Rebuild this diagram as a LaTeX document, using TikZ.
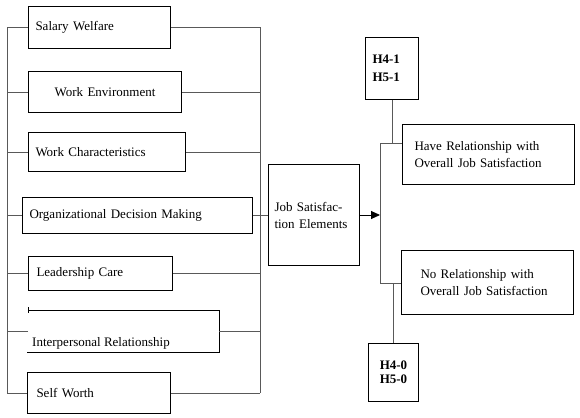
\documentclass[tikz,border=0pt]{standalone}
\usepackage{fontspec}
\setmainfont{Liberation Serif}
\usetikzlibrary{arrows.meta}
\tikzstyle{factor} = [rectangle, draw=black, line width=1pt, anchor=north west, align=left, inner xsep=7pt, inner ysep=0pt]
\tikzstyle{hyp} = [factor, font=\fontsize{13}{18}\selectfont\bfseries]
\tikzstyle{link} = [draw=black!65, line width=0.9pt]
\tikzstyle{arrow} = [link, draw=black, -{Triangle[length=9pt,width=8pt]}]

\begin{document}
\begin{tikzpicture}[x=1pt, y=-1pt, font=\fontsize{13}{17}\selectfont]
    \useasboundingbox (0,0) rectangle (580,417);
    % job satisfaction elements
    \node (sal) [factor, text width=128pt, minimum height=42pt] at (28,6) {Salary Welfare};
    \node (env) [factor, align=center, text width=139pt, minimum height=41pt] at (28,71) {Work Environment};
    \node (cha) [factor, text width=143pt, minimum height=39pt] at (28,132) {Work Characteristics};
    \node (org) [factor, text width=216pt, minimum height=36pt] at (22,197) {Organizational Decision Making};
    \node (lead) [factor, inner xsep=8pt, text width=128pt, minimum height=34pt] at (28,256) {Leadership Care};
    \node (inter) [factor, draw=none, text width=176pt, minimum height=41pt] at (28,310) {};
    \node (intertxt) [anchor=west, inner sep=0pt] at (32,343) {Interpersonal Relationship};
    \node (self) [factor, inner xsep=9pt, text width=125pt, minimum height=41pt] at (27,372) {Self Worth};
    \draw [line width=1pt] (inter.north west) -- (inter.north east) -- (inter.south east) -- ([xshift=-1pt]inter.south west);
    \draw [line width=1pt] ([yshift=3pt]inter.north west) -- ([yshift=-3pt]inter.north west);

    \node (jse) [factor, inner xsep=6pt, text width=79pt, minimum height=101pt] at (268,164) {Job Satisfac-\\tion Elements};

    % hypotheses and results
    \node (h41) [hyp, text width=39pt, minimum height=62pt] at (365,37) {H4-1\\H5-1};
    \node (have) [factor, inner xsep=12pt, text width=148pt, minimum height=60pt] at (402,124) {Have Relationship with\\Overall Job Satisfaction};
    \node (norel) [factor, inner xsep=19pt, text width=134pt, minimum height=64pt] at (401,250) {No Relationship with\\Overall Job Satisfaction};
    \node (h40) [hyp, align=center, font=\fontsize{13}{14}\selectfont\bfseries, text width=36pt, minimum height=58pt] at (368,343) {H4-0\\H5-0};

    % buses
    \coordinate (lbus) at (7,0);
    \coordinate (rbus) at (260,0);
    \coordinate (up) at (380,143);
    \coordinate (dn) at (380,283);

    \foreach \n in {sal,env,cha,org,lead,inter,self}
        \draw [link] (\n.west) -- (\n.west -| lbus);
    \draw [link] (sal.west -| lbus) -- (self.west -| lbus);
    \foreach \n in {sal,env,cha,lead,inter,self}
        \draw [link] (\n.east) -- (\n.east -| rbus);
    \draw [link] (sal.east -| rbus) -- (self.east -| rbus);
    \draw [link] (org.east) -- (jse.west |- org.east);

    \draw [arrow] (jse.east) -- (jse.east -| up);
    \draw [link] (up) -- (dn);
    \draw [link] (up) -- (up -| have.west);
    \draw [link] (dn) -- (dn -| norel.west);
    \draw [link] (h41.south) -- (h41.south |- up);
    \draw [link] (h40.north) -- (h40.north |- dn);
\end{tikzpicture}
\end{document}
